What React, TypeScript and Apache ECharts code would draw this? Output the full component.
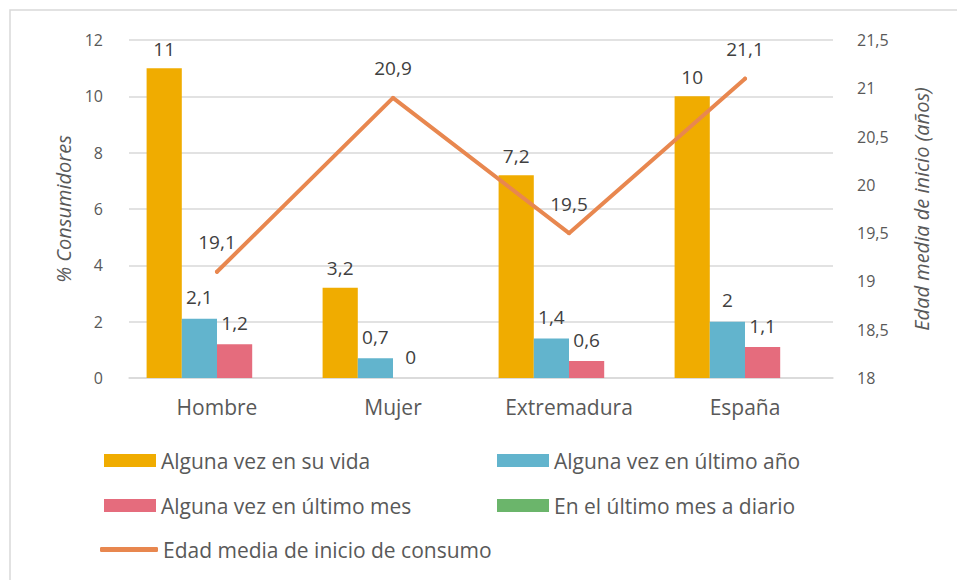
import React, { useEffect, useRef } from "react";
import * as echarts from "echarts";

const categories = ["Hombre", "Mujer", "Extremadura", "España"];
const everInLife = [11, 3.2, 7.2, 10];
const lastYear = [2.1, 0.7, 1.4, 2];
const lastMonth = [1.2, 0, 0.6, 1.1];
const dailyLastMonth: (number | null)[] = [null, null, null, null];
const meanStartAge = [19.1, 20.9, 19.5, 21.1];

const seriesNames = [
  "Alguna vez en su vida",
  "Alguna vez en último año",
  "Alguna vez en último mes",
  "En el último mes a diario",
  "Edad media de inicio de consumo",
];

const FONT = "'Open Sans', sans-serif";
const fmt = (v: number) => String(v).replace(".", ",");

export default function App() {
  const ref = useRef<HTMLDivElement>(null);
  useEffect(() => {
    if (!ref.current) return;
    const chart = echarts.init(ref.current, null, { renderer: "svg" });
    const barLabel = {
      show: true,
      position: "top" as const,
      distance: 12,
      color: "#404040",
      fontSize: 19,
      fontFamily: FONT,
      formatter: (p: any) => fmt(p.value),
    };
    const legendCommon = {
      itemWidth: 52,
      itemHeight: 13,
      padding: 0,
      textStyle: { color: "#595959", fontSize: 21, fontFamily: FONT },
      selectedMode: false,
    };
    chart.setOption({
      animation: false,
      textStyle: { fontFamily: FONT },
      graphic: [
        {
          type: "rect",
          shape: { x: 10, y: 10, width: 960, height: 600 },
          style: { fill: "none", stroke: "#d9d9d9", lineWidth: 1.5 },
          silent: true,
        },
      ],
      grid: { left: 129, right: 124, top: 40, bottom: 202 },
      legend: [
        { ...legendCommon, data: [{ name: seriesNames[0], icon: "rect" }], left: 104, top: 450 },
        { ...legendCommon, data: [{ name: seriesNames[1], icon: "rect" }], left: 497, top: 450 },
        { ...legendCommon, data: [{ name: seriesNames[2], icon: "rect" }], left: 104, top: 495 },
        { ...legendCommon, data: [{ name: seriesNames[3], icon: "rect" }], left: 497, top: 495 },
        {
          ...legendCommon,
          itemWidth: 58,
          itemHeight: 5,
          data: [{ name: seriesNames[4], icon: "roundRect" }],
          left: 100,
          top: 539,
        },
      ],
      xAxis: {
        type: "category",
        data: categories,
        axisLine: { show: true, lineStyle: { color: "#d9d9d9", width: 1.5 } },
        axisTick: { show: false },
        axisLabel: { color: "#595959", fontSize: 21, fontFamily: FONT, margin: 18 },
      },
      yAxis: [
        {
          type: "value",
          min: 0,
          max: 12,
          interval: 2,
          name: "% Consumidores",
          nameLocation: "middle",
          nameGap: 56,
          nameTextStyle: { color: "#595959", fontSize: 20, fontStyle: "italic", fontFamily: FONT },
          axisLabel: { color: "#595959", fontSize: 16, fontFamily: FONT, margin: 26 },
          splitLine: { lineStyle: { color: "#d9d9d9", width: 1.5 } },
          axisLine: { show: false },
          axisTick: { show: false },
        },
        {
          type: "value",
          min: 18,
          max: 21.5,
          interval: 0.5,
          position: "right",
          name: "Edad media de inicio (años)",
          nameLocation: "middle",
          nameGap: 78,
          nameRotate: 90,
          nameTextStyle: { color: "#595959", fontSize: 20, fontStyle: "italic", fontFamily: FONT },
          axisLabel: { color: "#595959", fontSize: 16, fontFamily: FONT, margin: 24, formatter: (v: number) => fmt(v) },
          splitLine: { show: false },
          axisLine: { show: false },
          axisTick: { show: false },
        },
      ],
      series: [
        {
          name: seriesNames[0],
          type: "bar",
          data: everInLife,
          itemStyle: { color: "#F0AC00" },
          barGap: "0%",
          barCategoryGap: "20%",
          label: { ...barLabel, distance: 10 },
        },
        { name: seriesNames[1], type: "bar", data: lastYear, itemStyle: { color: "#62B4CD" }, label: barLabel },
        { name: seriesNames[2], type: "bar", data: lastMonth, itemStyle: { color: "#E56C7D" }, label: barLabel },
        { name: seriesNames[3], type: "bar", data: dailyLastMonth, itemStyle: { color: "#6BB56B" }, label: { show: false } },
        {
          name: seriesNames[4],
          type: "line",
          yAxisIndex: 1,
          data: meanStartAge,
          symbol: "circle",
          symbolSize: 4,
          itemStyle: { color: "#E8874F" },
          lineStyle: { color: "#E8874F", width: 4, cap: "round", join: "round" },
          label: {
            show: true,
            position: "top",
            distance: 18,
            color: "#404040",
            fontSize: 19,
            fontFamily: FONT,
            formatter: (p: any) => fmt(p.value),
          },
          z: 5,
        },
      ],
    });
    return () => chart.dispose();
  }, []);
  return (
    <div
      ref={ref}
      style={{ position: "fixed", left: 0, top: 0, width: 957, height: 580, background: "#fff" }}
    />
  );
}
